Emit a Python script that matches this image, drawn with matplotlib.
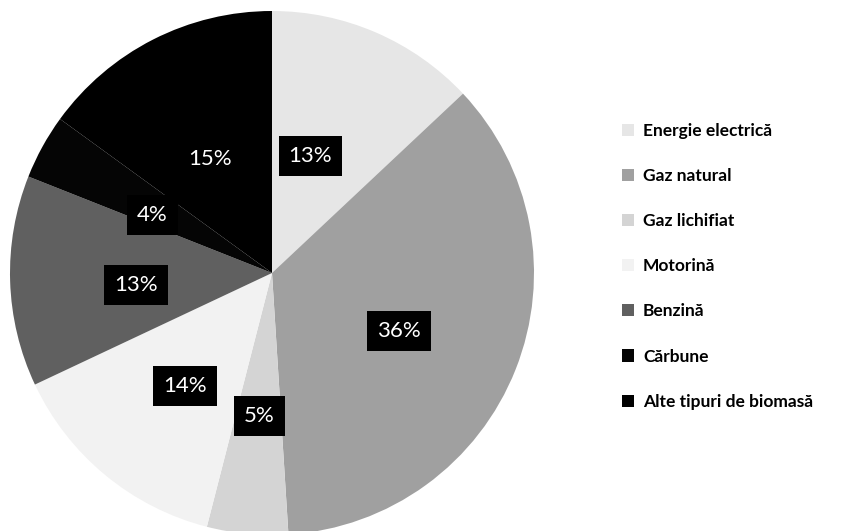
import matplotlib
matplotlib.use("Agg")
import matplotlib.pyplot as plt

# data
categories = ["Energie electrică", "Gaz natural", "Gaz lichifiat", "Motorină",
              "Benzină", "Cărbune", "Alte tipuri de biomasă"]
shares = [13, 36, 5, 14, 13, 4, 15]
colors = ["#e6e6e6", "#a0a0a0", "#d4d4d4", "#f2f2f2", "#606060", "#050505", "#000000"]

plt.rcParams['font.family'] = ['Lato', 'DejaVu Sans']

fig = plt.figure(figsize=(8.64, 5.31), dpi=100)
ax = fig.add_axes([10 / 864, -4 / 531, 524 / 864, 524 / 531])

wedges, texts = ax.pie(shares, colors=colors, startangle=90, counterclock=False,
                       radius=1.0, labels=[f"{v}%" for v in shares],
                       labeldistance=0.52)
for i, t in enumerate(texts):
    x, y = t.get_position()
    if i == 0:
        x -= 0.06  # first label sits a bit closer to the vertical edge
    t.set_position((x, y - 0.03))
    t.set_color("white")
    t.set_fontsize(16)
    t.set_ha("center")
    t.set_va("center")
    t.set_bbox(dict(boxstyle="square,pad=0.45", fc="black", ec="none"))
ax.set_xlim(-1, 1)
ax.set_ylim(-1, 1)
ax.set_aspect("equal")
ax.axis("off")

leg = fig.legend(wedges, categories, loc="upper left", bbox_to_anchor=(0.712, 0.782),
                 frameon=False, fontsize=12.5, handlelength=0.7, handleheight=0.7,
                 handletextpad=0.5, labelspacing=1.68, borderaxespad=0)
for t in leg.get_texts():
    t.set_fontweight("bold")

fig.savefig("out.png", dpi=100)
